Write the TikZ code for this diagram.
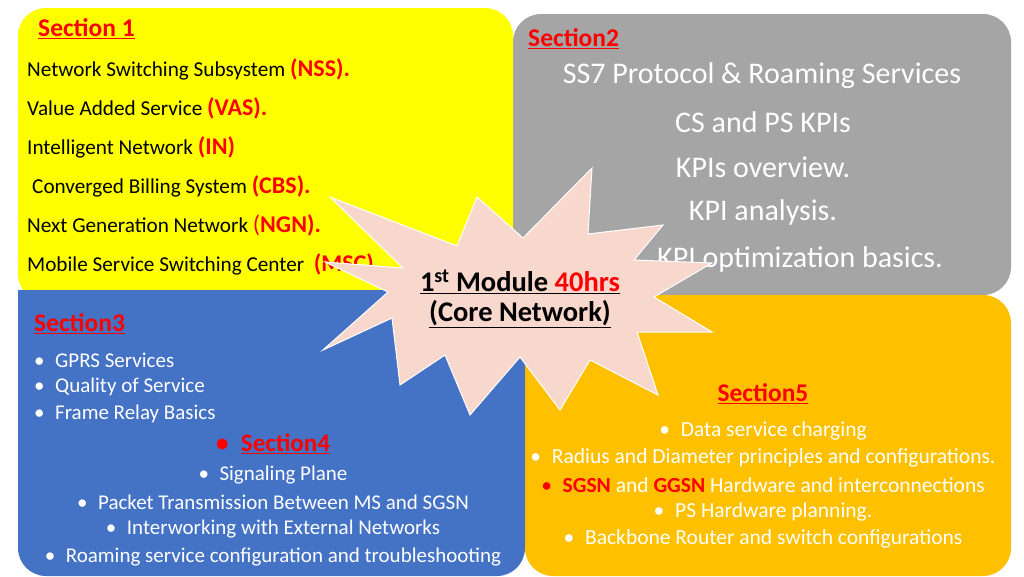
\documentclass[tikz,border=0pt]{standalone}
\usepackage{fontspec}
\setmainfont{Carlito}
\definecolor{ylw}{RGB}{255,255,0}
\definecolor{gry}{RGB}{165,165,165}
\definecolor{blu}{RGB}{68,114,196}
\definecolor{org}{RGB}{255,192,0}
\definecolor{pnk}{RGB}{248,215,205}
\definecolor{rd}{RGB}{255,0,0}
\newcommand{\bl}{\textbullet\hspace{0.5em}}
\newcommand{\rp}[1]{\textcolor{rd}{\fontsize{24}{24}\selectfont\bfseries #1}}
\begin{document}
\begin{tikzpicture}[x=1pt,y=-1pt,
 t/.style={anchor=west,inner sep=0pt,font=\fontsize{21.2}{21}\selectfont},
 g/.style={anchor=center,inner sep=0pt,text=white,font=\fontsize{30}{30}\selectfont},
 w/.style={inner sep=0pt,text=white,font=\fontsize{21}{21}\selectfont},
 o/.style={inner sep=0pt,text=white,font=\fontsize{21.5}{21.5}\selectfont},
 sec/.style={inner sep=0pt,text=rd,font=\fontsize{25.5}{25}\selectfont\bfseries}]
\useasboundingbox (0,0) rectangle (1024,576);
\fill[white] (0,0) rectangle (1024,576);
\fill[gry,rounded corners=28] (513,295) -- (513,14) -- (1011,14) -- (1011,295) [sharp corners]-- cycle;
\fill[ylw,rounded corners=28] (513,302) -- (18,302) -- (18,8) -- (513,8) [sharp corners]-- cycle;
\fill[org,rounded corners=28] (525,295) -- (1011,295) -- (1011,576) -- (525,576) [sharp corners]-- cycle;
\fill[blu,rounded corners=28] (18,290) -- (525,290) -- (525,576) -- (18,576) [sharp corners]-- cycle;
% section 1
\node[sec,anchor=west] (s1) at (38,29) {\underline{Section 1}};
\node[t] (a1) at (27,69) {Network Switching Subsystem \rp{(NSS).}};
\node[t] (a2) at (27,108) {Value Added Service \rp{(VAS).}};
\node[t] (a3) at (27,147) {Intelligent Network \rp{(IN)}};
\node[t] (a4) at (32,186) {Converged Billing System \rp{(CBS).}};
\node[t] (a5) at (27,225) {Next Generation Network \textcolor{rd}{\fontsize{24}{24}\selectfont(\bfseries NGN).}};
\node[t] (a6) at (27,264) {Mobile Service Switching Center \ \rp{(MSC)}};
% section 2
\node[sec,anchor=west] (s2) at (528,39) {\underline{Section2}};
\node[g] (b1) at (762,76) {SS7 Protocol \& Roaming Services};
\node[g] (b2) at (763,122) {CS and PS KPIs};
\node[g] (b3) at (763,167) {KPIs overview.};
\node[g] (b4) at (763,212) {KPI analysis.};
\node[g] (b5) at (800,259) {KPI optimization basics.};
% section 3/4
\node[sec,anchor=west] (s3) at (34,324) {\underline{Section3}};
\node[w,anchor=west] (c1) at (34,360) {\bl GPRS Services};
\node[w,anchor=west] (c2) at (34,387) {\bl Quality of Service};
\node[w,anchor=west] (c3) at (34,414) {\bl Frame Relay Basics};
\node[sec,font=\fontsize{25}{25}\selectfont\bfseries] (s4) at (273,444) {\bl\underline{Section4}};
\node[w] (d1) at (273,475) {\bl Signaling Plane};
\node[w] (d2) at (273,502) {\bl Packet Transmission Between MS and SGSN};
\node[w] (d3) at (273,529) {\bl Interworking with External Networks};
\node[w] (d4) at (273,557) {\bl Roaming service configuration and troubleshooting};
% section 5
\node[sec] (s5) at (763,394) {\underline{Section5}};
\node[o] (e1) at (763,431) {\bl Data service charging};
\node[o] (e2) at (763,458) {\bl Radius and Diameter principles and configurations.};
\node[o] (e3) at (763,485) {\textcolor{rd}{\bl\bfseries SGSN} and \textcolor{rd}{\bfseries GGSN} Hardware and interconnections};
\node[o] (e4) at (763,512) {\bl PS Hardware planning.};
\node[o] (e5) at (763,539) {\bl Backbone Router and switch configurations};
% star
\filldraw[fill=pnk,draw=white,line width=1pt] (330,197) -- (457,246) -- (477,197) -- (523,238) -- (592,168) -- (588,234) -- (663,225) -- (634,260) -- (712,263) -- (654,297) -- (712,332) -- (637,332) -- (658,395) -- (590,360) -- (560,410) -- (520,357) -- (470,415) -- (445,355) -- (400,385) -- (392,318) -- (323,350) -- (388,292) -- (325,262) -- (403,268) -- cycle;
\node[inner sep=0pt,font=\fontsize{28.5}{28}\selectfont\bfseries] (m1) at (520,282) {\underline{1\textsuperscript{st} Module \textcolor{rd}{40hrs}}};
\node[inner sep=0pt,font=\fontsize{28.5}{28}\selectfont\bfseries] (m2) at (520,314) {\underline{(Core Network)}};
\end{tikzpicture}
\end{document}
